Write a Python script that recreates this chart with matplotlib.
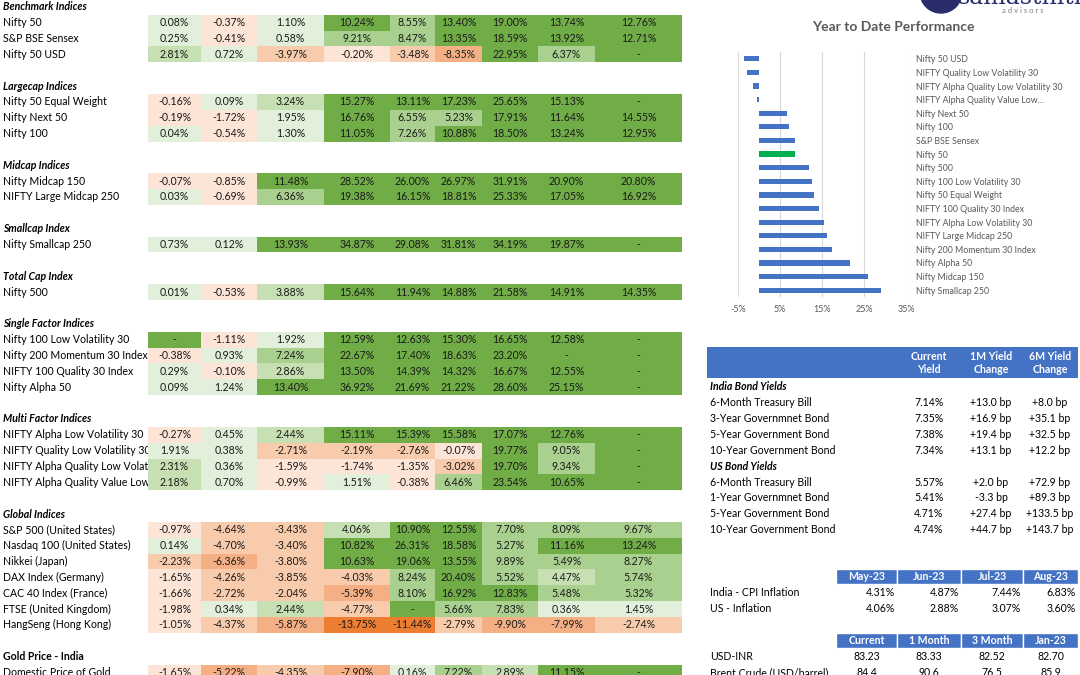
import numpy as np
import matplotlib.pyplot as plt
from matplotlib.patches import Rectangle, Circle

plt.rcParams["font.family"] = ["Lato", "DejaVu Sans"]

nan = np.nan

# --- main returns table (columns are return periods, nan = "-") ---
benchmark_names = ["Nifty 50", "S&P BSE Sensex", "Nifty 50 USD"]
benchmark_vals = [
    [0.08, -0.37, 1.10, 10.24, 8.55, 13.40, 19.00, 13.74, 12.76],
    [0.25, -0.41, 0.58, 9.21, 8.47, 13.35, 18.59, 13.92, 12.71],
    [2.81, 0.72, -3.97, -0.20, -3.48, -8.35, 22.95, 6.37, nan],
]
largecap_names = ["Nifty 50 Equal Weight", "Nifty Next 50", "Nifty 100"]
largecap_vals = [
    [-0.16, 0.09, 3.24, 15.27, 13.11, 17.23, 25.65, 15.13, nan],
    [-0.19, -1.72, 1.95, 16.76, 6.55, 5.23, 17.91, 11.64, 14.55],
    [0.04, -0.54, 1.30, 11.05, 7.26, 10.88, 18.50, 13.24, 12.95],
]
midcap_names = ["Nifty Midcap 150", "NIFTY Large Midcap 250"]
midcap_vals = [
    [-0.07, -0.85, 11.48, 28.52, 26.00, 26.97, 31.91, 20.90, 20.80],
    [0.03, -0.69, 6.36, 19.38, 16.15, 18.81, 25.33, 17.05, 16.92],
]
smallcap_names = ["Nifty Smallcap 250"]
smallcap_vals = [[0.73, 0.12, 13.93, 34.87, 29.08, 31.81, 34.19, 19.87, nan]]
totalcap_names = ["Nifty 500"]
totalcap_vals = [[0.01, -0.53, 3.88, 15.64, 11.94, 14.88, 21.58, 14.91, 14.35]]
single_names = ["Nifty 100 Low Volatility 30", "Nifty 200 Momentum 30 Index",
                "NIFTY 100 Quality 30 Index", "Nifty Alpha 50"]
single_vals = [
    [nan, -1.11, 1.92, 12.59, 12.63, 15.30, 16.65, 12.58, nan],
    [-0.38, 0.93, 7.24, 22.67, 17.40, 18.63, 23.20, nan, nan],
    [0.29, -0.10, 2.86, 13.50, 14.39, 14.32, 16.67, 12.55, nan],
    [0.09, 1.24, 13.40, 36.92, 21.69, 21.22, 28.60, 25.15, nan],
]
multi_names = ["NIFTY Alpha Low Volatility 30", "NIFTY Quality Low Volatility 30",
               "NIFTY Alpha Quality Low Volatility 30",
               "NIFTY Alpha Quality Value Low Volatility 30"]
multi_vals = [
    [-0.27, 0.45, 2.44, 15.11, 15.39, 15.58, 17.07, 12.76, nan],
    [1.91, 0.38, -2.71, -2.19, -2.76, -0.07, 19.77, 9.05, nan],
    [2.31, 0.36, -1.59, -1.74, -1.35, -3.02, 19.70, 9.34, nan],
    [2.18, 0.70, -0.99, 1.51, -0.38, 6.46, 23.54, 10.65, nan],
]
global_names = ["S&P 500 (United States)", "Nasdaq 100 (United States)", "Nikkei (Japan)",
                "DAX Index (Germany)", "CAC 40 Index (France)", "FTSE (United Kingdom)",
                "HangSeng (Hong Kong)"]
global_vals = [
    [-0.97, -4.64, -3.43, 4.06, 10.90, 12.55, 7.70, 8.09, 9.67],
    [0.14, -4.70, -3.40, 10.82, 26.31, 18.58, 5.27, 11.16, 13.24],
    [-2.23, -6.36, -3.80, 10.63, 19.06, 13.55, 9.89, 5.49, 8.27],
    [-1.65, -4.26, -3.85, -4.03, 8.24, 20.40, 5.52, 4.47, 5.74],
    [-1.66, -2.72, -2.04, -5.39, 8.10, 16.92, 12.83, 5.48, 5.32],
    [-1.98, 0.34, 2.44, -4.77, nan, 5.66, 7.83, 0.36, 1.45],
    [-1.05, -4.37, -5.87, -13.75, -11.44, -2.79, -9.90, -7.99, -2.74],
]
gold_names = ["Domestic Price of Gold"]
gold_vals = [[-1.65, -5.22, -4.35, -7.90, 0.16, 7.22, 2.89, 11.15, nan]]

sections = [
    ("Benchmark Indices", benchmark_names, benchmark_vals),
    ("Largecap Indices", largecap_names, largecap_vals),
    ("Midcap Indices", midcap_names, midcap_vals),
    ("Smallcap Index", smallcap_names, smallcap_vals),
    ("Total Cap Index", totalcap_names, totalcap_vals),
    ("Single Factor Indices", single_names, single_vals),
    ("Multi Factor Indices", multi_names, multi_vals),
    ("Global Indices", global_names, global_vals),
    ("Gold Price - India", gold_names, gold_vals),
]

# --- YTD bar chart ---
ytd_names = ["Nifty 50 USD", "NIFTY Quality Low Volatility 30",
             "NIFTY Alpha Quality Low Volatility 30", "NIFTY Alpha Quality Value Low...",
             "Nifty Next 50", "Nifty 100", "S&P BSE Sensex", "Nifty 50", "Nifty 500",
             "Nifty 100 Low Volatility 30", "Nifty 50 Equal Weight",
             "NIFTY 100 Quality 30 Index", "NIFTY Alpha Low Volatility 30",
             "NIFTY Large Midcap 250", "Nifty 200 Momentum 30 Index", "Nifty Alpha 50",
             "Nifty Midcap 150", "Nifty Smallcap 250"]
ytd_vals = [-3.48, -2.76, -1.35, -0.38, 6.55, 7.26, 8.47, 8.55, 11.94, 12.63, 13.11,
            14.39, 15.39, 16.15, 17.40, 21.69, 26.00, 29.08]

# --- bond yields ---
bond_cols = ["Current\nYield", "1M Yield\nChange", "6M Yield\nChange"]
india_bonds = ["6-Month Treasury Bill", "3-Year Governmnet Bond",
               "5-Year Government Bond", "10-Year Government Bond"]
india_yield = ["7.14%", "7.35%", "7.38%", "7.34%"]
india_1m = ["+13.0 bp", "+16.9 bp", "+19.4 bp", "+13.1 bp"]
india_6m = ["+8.0 bp", "+35.1 bp", "+32.5 bp", "+12.2 bp"]
us_bonds = ["6-Month Treasury Bill", "1-Year Governmnet Bond",
            "5-Year Government Bond", "10-Year Government Bond"]
us_yield = ["5.57%", "5.41%", "4.71%", "4.74%"]
us_1m = ["+2.0 bp", "-3.3 bp", "+27.4 bp", "+44.7 bp"]
us_6m = ["+72.9 bp", "+89.3 bp", "+133.5 bp", "+143.7 bp"]

# --- inflation / macro ---
infl_months = ["May-23", "Jun-23", "Jul-23", "Aug-23"]
infl_names = ["India - CPI Inflation", "US - Inflation"]
infl_vals = [["4.31%", "4.87%", "7.44%", "6.83%"],
             ["4.06%", "2.88%", "3.07%", "3.60%"]]
macro_cols = ["Current", "1 Month", "3 Month", "Jan-23"]
macro_names = ["USD-INR", "Brent Crude (USD/barrel)"]
macro_vals = [["83.23", "83.33", "82.52", "82.70"],
              ["84.4", "90.6", "76.5", "85.9"]]

BLUE = "#4472C4"
FS = 7.6


def cell_colour(v):
    if np.isnan(v) or v >= 10:
        return "#70AD47"
    if v >= 5:
        return "#A9D08E"
    if v >= 2:
        return "#C6E0B4"
    if v >= 0:
        return "#E2EFDA"
    if v > -2:
        return "#FCE4D6"
    if v > -5:
        return "#F8CBAD"
    if v > -10:
        return "#F4B084"
    return "#ED7D31"


fig = plt.figure(figsize=(10.8, 6.75), dpi=100)
ax = fig.add_axes([0, 0, 1, 1])
ax.set_xlim(0, 1080)
ax.set_ylim(675, 0)
ax.axis("off")

col_edges = [148, 201, 257, 324, 390, 435, 482, 538, 595, 682]
pitch = 15.85

# label column is cut where the coloured cells begin, like a spreadsheet
label_clip = Rectangle((0, 0), col_edges[0] - 1, 675, transform=ax.transData)

slot = 0
for header, names, vals in sections:
    y = 6.8 + pitch * slot
    style = "normal" if header.startswith("Gold") else "italic"
    ax.text(3, y, header, fontsize=FS, fontweight="bold", fontstyle=style,
            va="center", ha="left", zorder=1)
    for i, (name, row) in enumerate(zip(names, vals)):
        y = 6.8 + pitch * (slot + 1 + i)
        t = ax.text(3, y, name, fontsize=FS, va="center", ha="left", zorder=1)
        t.set_clip_path(label_clip)
        for j, v in enumerate(row):
            x0, x1 = col_edges[j], col_edges[j + 1]
            ax.add_patch(Rectangle((x0, y - pitch / 2), x1 - x0, pitch,
                                   facecolor=cell_colour(v), edgecolor="none", zorder=2))
            txt = "-" if np.isnan(v) else f"{v:.2f}%"
            ax.text((x0 + x1) / 2, y, txt, fontsize=FS, ha="center", va="center",
                    color="#1a1a1a", zorder=3)
    slot += len(names) + 2

# logo
ax.add_patch(Circle((941, -8), 21, color="#2A2C6B", zorder=2))
ax.text(958, 4, "samasthiti", fontsize=17, family="DejaVu Serif", color="#2A2C6B",
        ha="left", va="baseline")
ax.text(1043, 10.5, "a d v i s o r s", fontsize=5.5, color="#7F7F7F", ha="right", va="center")

# bond yield table
ax.add_patch(Rectangle((707, 347), 371, 31, facecolor=BLUE, edgecolor="none"))
for x, lab in zip([929, 991, 1050], bond_cols):
    ax.text(x, 363, lab, fontsize=FS, color="white", fontweight="bold",
            ha="center", va="center", linespacing=1.3)
by = 387
for header, names, c1, c2, c3 in [("India Bond Yields", india_bonds, india_yield, india_1m, india_6m),
                                  ("US Bond Yields", us_bonds, us_yield, us_1m, us_6m)]:
    ax.text(710, by, header, fontsize=FS, fontweight="bold", fontstyle="italic", va="center")
    by += pitch
    for n, a, b, c in zip(names, c1, c2, c3):
        ax.text(710, by, n, fontsize=FS, va="center")
        for x, t in zip([929, 991, 1050], [a, b, c]):
            ax.text(x, by, t, fontsize=FS, ha="center", va="center")
        by += pitch

# inflation and macro tables
edges = [836, 897, 961, 1023, 1078]
for top, heads, names, vals, align in [(569, infl_months, infl_names, infl_vals, "right"),
                                      (633, macro_cols, macro_names, macro_vals, "center")]:
    for k, h in enumerate(heads):
        ax.add_patch(Rectangle((edges[k], top), edges[k + 1] - edges[k], 15,
                               facecolor=BLUE, edgecolor="white", linewidth=1))
        ax.text((edges[k] + edges[k + 1]) / 2, top + 7.5, h, fontsize=FS, color="white",
                fontweight="bold", ha="center", va="center")
    for i, (n, row) in enumerate(zip(names, vals)):
        yy = top + 24 + pitch * i
        ax.text(710, yy, n, fontsize=FS, va="center")
        for k, t in enumerate(row):
            xx = edges[k + 1] - 2 if align == "right" else (edges[k] + edges[k + 1]) / 2
            ax.text(xx, yy, t, fontsize=FS, ha=align, va="center")

# YTD bar chart
ax.text(893, 27, "Year to Date Performance", fontsize=10, fontweight="bold",
        color="#595959", ha="center", va="center")
bx = fig.add_axes([738 / 1080, 1 - 297 / 675, 168 / 1080, 245 / 675])
pos = np.arange(len(ytd_vals))
colours = ["#00B050" if n == "Nifty 50" else BLUE for n in ytd_names]
bx.barh(pos, ytd_vals, height=0.38, color=colours, zorder=3)
bx.set_ylim(len(ytd_vals) - 0.5, -0.5)
bx.set_xlim(-5, 35)
bx.set_xticks([-5, 5, 15, 25, 35])
bx.set_xticklabels(["-5%", "5%", "15%", "25%", "35%"])
bx.set_yticks(pos)
bx.set_yticklabels(ytd_names)
bx.yaxis.tick_right()
bx.tick_params(axis="y", length=0, pad=7, labelsize=6.3, labelcolor="#595959")
bx.tick_params(axis="x", length=0, pad=6, labelsize=6.5, labelcolor="#595959")
bx.grid(axis="x", color="#D9D9D9", linewidth=0.8, zorder=0)
for s in bx.spines.values():
    s.set_visible(False)

fig.savefig("out.png", dpi=100)
